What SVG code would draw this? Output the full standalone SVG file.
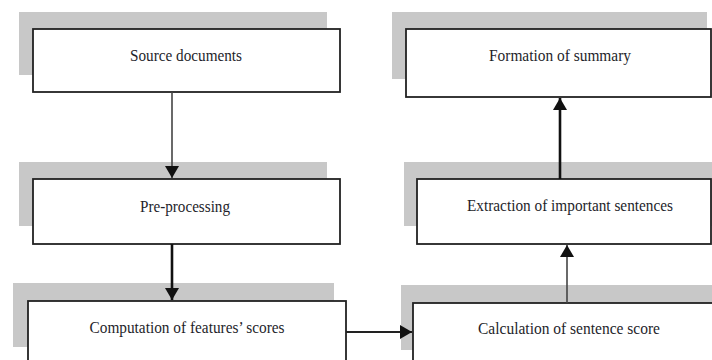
<svg xmlns="http://www.w3.org/2000/svg" width="712" height="360" viewBox="0 0 712 360">
<style>
.sh{fill:#c8c8c8}
.bx{fill:#fff;stroke:#222;stroke-width:1.8}
.tx{font-family:"Liberation Serif",serif;font-size:16.5px;fill:#1e1e2a;text-anchor:middle}
.ln{stroke:#222;stroke-width:2;fill:none}
.thin{stroke:#444;stroke-width:1.6}
.thick{stroke:#111;stroke-width:2.6}
</style>
<defs>
<marker id="ah" viewBox="0 0 12 14" refX="12" refY="7" markerWidth="12" markerHeight="14" markerUnits="userSpaceOnUse" orient="auto">
<path d="M0,0 L12,7 L0,14 Z" fill="#111"/>
</marker>
</defs>
<rect width="712" height="360" fill="#fff"/>
<g id="source">
<rect class="sh" x="19" y="12" width="308" height="63"/>
<rect class="bx" x="33" y="29" width="307" height="63"/>
<text class="tx" x="186" y="61" textLength="112" lengthAdjust="spacingAndGlyphs">Source documents</text>
</g>
<g id="preprocessing">
<rect class="sh" x="19" y="162" width="308" height="64"/>
<rect class="bx" x="33" y="179" width="307" height="65"/>
<text class="tx" x="185" y="212" textLength="90" lengthAdjust="spacingAndGlyphs">Pre-processing</text>
</g>
<g id="computation">
<rect class="sh" x="13" y="283" width="321" height="64"/>
<rect class="bx" x="28" y="301" width="318" height="62"/>
<text class="tx" x="187" y="333" textLength="195" lengthAdjust="spacingAndGlyphs">Computation of features’ scores</text>
</g>
<g id="formation">
<rect class="sh" x="392" y="12" width="315" height="67"/>
<rect class="bx" x="406" y="29" width="305" height="68"/>
<text class="tx" x="560" y="61" textLength="142" lengthAdjust="spacingAndGlyphs">Formation of summary</text>
</g>
<g id="extraction">
<rect class="sh" x="404" y="162" width="310" height="64"/>
<rect class="bx" x="417" y="179" width="294" height="65"/>
<text class="tx" x="570" y="211" textLength="206" lengthAdjust="spacingAndGlyphs">Extraction of important sentences</text>
</g>
<g id="calculation">
<rect class="sh" x="401" y="285" width="313" height="65"/>
<rect class="bx" x="413" y="303" width="300" height="60"/>
<text class="tx" x="569" y="334" textLength="182" lengthAdjust="spacingAndGlyphs">Calculation of sentence score</text>
</g>
<g id="connectors">
<line class="ln thin" x1="172" y1="92" x2="172" y2="178" marker-end="url(#ah)"/>
<line class="ln thick" x1="172" y1="244" x2="172" y2="300" marker-end="url(#ah)"/>
<line class="ln" x1="346" y1="332" x2="412" y2="332" marker-end="url(#ah)"/>
<line class="ln thin" x1="567" y1="303" x2="567" y2="245" marker-end="url(#ah)"/>
<line class="ln thick" x1="560" y1="179" x2="560" y2="98" marker-end="url(#ah)"/>
</g>
</svg>
